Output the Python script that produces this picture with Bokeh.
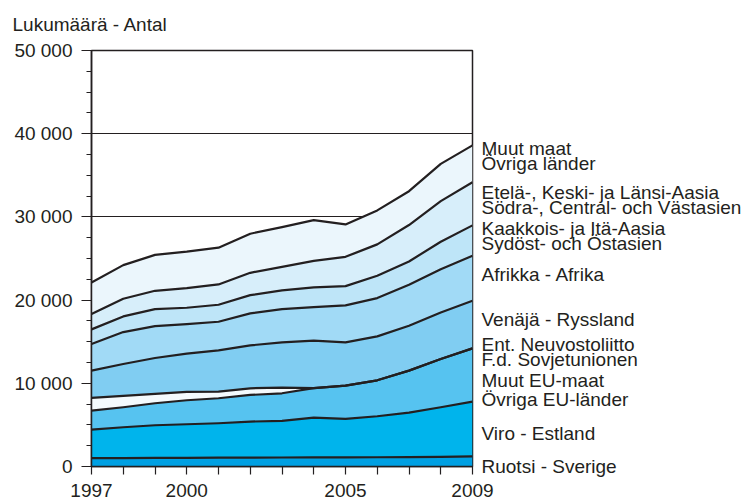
from bokeh.plotting import figure
from bokeh.models import ColumnDataSource, FixedTicker, LinearAxis, Range1d
from bokeh.transform import stack
from bokeh.embed import file_html
from bokeh.resources import INLINE

# ---- data (persons, by country of birth / citizenship group) ----
years = list(range(1997, 2010))
ruotsi    = [1000, 1010, 1030, 1040, 1060, 1070, 1080, 1090, 1100, 1110, 1130, 1160, 1220]
viro      = [3440, 3710, 3930, 4040, 4140, 4330, 4400, 4790, 4620, 4930, 5350, 5960, 6580]
muut_eu   = [2280, 2400, 2640, 2880, 3000, 3200, 3320, 3540, 4000, 4320, 5040, 5800, 6400]
ent_nl    = [1520, 1360, 1120, 1000, 800, 800, 680, 0, 0, 0, 0, 0, 0]
venaja    = [3280, 3840, 4320, 4600, 4960, 5160, 5440, 5700, 5200, 5280, 5400, 5600, 5720]
afrikka   = [3200, 3840, 3840, 3560, 3440, 3840, 4000, 4040, 4440, 4600, 4920, 5200, 5400]
kaakkois  = [1760, 1880, 2040, 1960, 2040, 2200, 2240, 2360, 2320, 2680, 2800, 3300, 3660]
etela     = [1840, 2120, 2200, 2360, 2440, 2680, 2840, 3200, 3520, 3780, 4380, 4870, 5190]
muut_maat = [3800, 4040, 4320, 4380, 4420, 4700, 4780, 4900, 3900, 4080, 4070, 4480, 4430]

series_names = ["ruotsi", "viro", "muut_eu", "ent_nl", "venaja",
                "afrikka", "kaakkois", "etela", "muut_maat"]
series_labels = [
    ["Ruotsi - Sverige"],
    ["Viro - Estland"],
    ["Muut EU-maat", "Övriga EU-länder"],
    ["Ent. Neuvostoliitto", "F.d. Sovjetunionen"],
    ["Venäjä - Ryssland"],
    ["Afrikka - Afrika"],
    ["Kaakkois- ja Itä-Aasia", "Sydöst- och Östasien"],
    ["Etelä-, Keski- ja Länsi-Aasia", "Södra-, Central- och Västasien"],
    ["Muut maat", "Övriga länder"],
]

y_ticks = [0, 10000, 20000, 30000, 40000, 50000]
y_tick_labels = ["0", "10 000", "20 000", "30 000", "40 000", "50 000"]
x_label_years = [1997, 2000, 2005, 2009]

# ---- styles / layout ----
colors = ["#00a0e3", "#00b4ec", "#56c3f0", "#f4fafd", "#80cdf2",
          "#a1daf6", "#bee5f8", "#d7eefa", "#ebf6fc"]
ink = "#231f20"
font = "Liberation Sans"
# vertical centres of the right-hand label lines, in data units
label_centres = [
    [0],
    [4000],
    [10390, 8110],
    [14710, 12830],
    [17700],
    [23100],
    [28580, 26780],
    [32970, 31100],
    [38170, 36370],
]

src = ColumnDataSource(dict(year=years, ruotsi=ruotsi, viro=viro, muut_eu=muut_eu,
                            ent_nl=ent_nl, venaja=venaja, afrikka=afrikka,
                            kaakkois=kaakkois, etela=etela, muut_maat=muut_maat))

p = figure(width=754, height=504, output_backend="svg", toolbar_location=None,
           x_range=Range1d(1997, 2009), y_range=Range1d(0, 50000),
           min_border_left=91, min_border_right=282, min_border_top=49,
           min_border_bottom=38, background_fill_color="white",
           border_fill_color="white")

p.varea_stack(stackers=series_names, x="year", color=colors, source=src)
for i in range(len(series_names)):
    p.line(x="year", y=stack(*series_names[:i + 1]), source=src,
           line_color=ink, line_width=2.2, line_join="round")

# title (unit)
p.title.text = "Lukumäärä - Antal"
p.title.align = "left"
p.title.offset = -79
p.title.text_font = font
p.title.text_font_size = "19px"
p.title.text_font_style = "normal"
p.title.text_color = ink
p.title.text_line_height = 1.0
p.title.vertical_align = "top"
p.title.standoff = 27

# grid / frame
p.xgrid.visible = False
p.ygrid.ticker = FixedTicker(ticks=y_ticks)
p.ygrid.grid_line_color = ink
p.ygrid.grid_line_width = 1
p.outline_line_color = ink
p.outline_line_width = 1.5

ya = p.yaxis[0]
ya.ticker = FixedTicker(ticks=y_ticks,
                        minor_ticks=[v for v in range(0, 50001, 2500) if v % 10000])
ya.major_label_overrides = {t: l for t, l in zip(y_ticks, y_tick_labels)}
ya.major_tick_out = 10
ya.major_tick_in = 0
ya.minor_tick_out = 5
ya.minor_tick_in = 0
ya.major_label_standoff = 9
ya.major_label_text_font = font
ya.major_label_text_font_size = "19px"
ya.major_label_text_color = ink
ya.axis_line_color = ink
ya.axis_line_width = 1.5
ya.major_tick_line_color = ink
ya.minor_tick_line_color = ink
ya.major_tick_line_width = 1.2
ya.minor_tick_line_width = 1.2

xa = p.xaxis[0]
xa.ticker = FixedTicker(ticks=x_label_years,
                        minor_ticks=[y for y in years if y not in x_label_years])
xa.major_label_overrides = {y: str(y) for y in x_label_years}
xa.major_tick_out = 8
xa.major_tick_in = 0
xa.minor_tick_out = 8
xa.minor_tick_in = 0
xa.major_label_standoff = 9
xa.major_label_text_font = font
xa.major_label_text_font_size = "19px"
xa.major_label_text_color = ink
xa.axis_line_color = ink
xa.axis_line_width = 1.5
xa.major_tick_line_color = ink
xa.minor_tick_line_color = ink
xa.major_tick_line_width = 1.2
xa.minor_tick_line_width = 1.2

# right-hand series labels as a label-only axis
lab_ticks, lab_texts = [], []
for lines, ys in zip(series_labels, label_centres):
    for txt, yv in zip(lines, ys):
        lab_ticks.append(yv)
        lab_texts.append(txt)
ra = LinearAxis(ticker=FixedTicker(ticks=lab_ticks, minor_ticks=[]))
ra.major_label_overrides = {t: s for t, s in zip(lab_ticks, lab_texts)}
ra.axis_line_color = None
ra.major_tick_line_color = None
ra.minor_tick_line_color = None
ra.major_tick_out = 0
ra.major_tick_in = 0
ra.major_label_standoff = 9
ra.major_label_text_font = font
ra.major_label_text_font_size = "19px"
ra.major_label_text_color = ink
p.add_layout(ra, "right")

open("out.html", "w").write(file_html(p, INLINE))
